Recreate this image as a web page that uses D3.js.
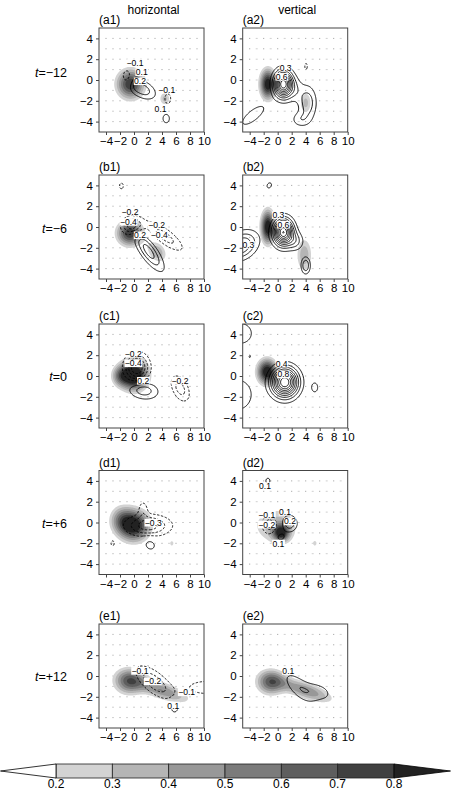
<!DOCTYPE html>
<html><head><meta charset="utf-8">
<script src="https://cdn.jsdelivr.net/npm/d3@7"></script>
<style>body{margin:0;background:#fff}svg{display:block}text{font-family:"Liberation Sans",Arial,sans-serif;fill:#000}</style>
</head><body><svg id="c" width="451" height="792"></svg>
<script>
// ---------- data ----------
const xTicks=[-4,-2,0,2,4,6,8,10];
const yTicks=[-4,-2,0,2,4];
const gridX=[-4,-3,-2,-1,0,1,2,3,4,5,6,7,8,9];
const gridY=[-4,-3,-2,-1,0,1,2,3,4];
const columnTitles=["horizontal","vertical"];
const rowTimes=["−12","−6","0","+6","+12"];
const shadeLevels=[0.2,0.3,0.4,0.5,0.6,0.7,0.8];
const shadeColors=["#d3d3d3","#b5b5b5","#989898","#7b7b7b","#5e5e5e","#404040","#222222"];
const colorbarLabels=["0.2","0.3","0.4","0.5","0.6","0.7","0.8"];
// blobs: [x, y, amplitude, spread x, spread y, tilt deg]
const a1Shade=[[-0.5,-0.4,0.8,1.4,1.0,0],[4.4,-1.8,0.34,0.6,0.5,0]];
const a1Lines=[[1.2,-0.9,0.27,1.35,0.58,-15],[0.2,-0.1,0.08,0.5,0.6,0],[-1.0,0.3,-0.17,0.6,0.6,0],[4.8,-1.8,-0.15,0.5,0.55,0],[4.6,-3.7,0.15,0.5,0.45,0]];
const a1Step=0.1;
const a1Labels=[[0.14,1.62,"−0.1"],[1.1,0.74,"0.1"],[0.86,-0.12,"0.2"],[4.67,-0.92,"−0.1"],[3.8,-2.75,"0.1"]];

const a2Shade=[[-1.4,-0.4,0.92,0.8,1.0,0],[4.0,-2.2,0.34,0.65,0.85,0]];
const a2Lines=[[0.8,-0.4,0.98,0.9,0.85,0],[4.3,-2.2,0.27,0.85,1.1,0],[3.2,-3.8,0.15,0.9,0.5,0],[2.6,-1.0,0.12,0.8,0.8,0],[-3.5,-3.4,0.17,1.6,0.5,26],[4.05,1.3,-0.13,0.25,0.4,0]];
const a2Step=0.1;
const a2Labels=[[1.14,1.2,"0.3"],[0.57,0.3,"0.6"]];

const b1Shade=[[-0.6,-0.6,0.8,1.3,0.85,0],[3.3,-2.4,0.4,1.05,0.7,-20]];
const b1Lines=[[-0.3,0.1,-0.8,1.0,0.6,0],[4.4,-0.9,-0.5,2.0,0.55,-25],[2.1,-2.35,0.7,1.75,0.62,-40],[-1.8,3.95,-0.3,0.3,0.3,0]];
const b1Step=0.2;
const b1Labels=[[-0.57,1.45,"−0.2"],[-0.8,0.49,"−0.4"],[0.86,-0.8,"0.2"],[3.24,0.15,"−0.2"],[3.62,-0.8,"−0.4"]];

const b2Shade=[[-1.4,0.0,0.95,0.7,1.1,0],[3.8,-2.7,0.38,0.85,1.25,0]];
const b2Lines=[[0.8,-0.5,1.0,0.95,0.85,0],[2.6,-1.4,0.2,0.8,0.6,0],[-5.2,-1.8,0.42,1.6,0.85,15],[-1.2,4.0,0.14,0.4,0.28,20],[4.0,-3.7,0.3,0.45,0.55,0]];
const b2Step=0.1;
const b2Labels=[[0.1,1.15,"0.3"],[0.81,0.22,"0.6"],[-4.19,-1.72,"0.3"]];

const c1Shade=[[0.0,0.1,1.1,1.35,1.0,0],[-2.0,0.0,0.4,0.9,0.7,0]];
const c1Lines=[[0.4,0.8,-1.0,1.15,0.9,0],[1.3,-1.35,0.55,1.5,0.6,-5],[6.6,-1.2,-0.5,1.1,0.7,-40]];
const c1Step=0.2;
const c1Labels=[[-0.1,2.15,"−0.2"],[-0.1,1.22,"−0.4"],[1.33,-0.46,"0.2"],[6.57,-0.46,"−0.2"]];

const c2Shade=[[-1.5,0.4,0.95,1.0,0.85,0]];
const c2Lines=[[1.0,-0.6,1.0,1.28,0.94,0],[-5.3,4.1,0.2,1.3,0.8,0],[-4.0,1.9,-0.12,0.18,0.25,0],[-5.8,-1.8,0.2,1.7,1.2,0],[5.3,-1.1,0.15,0.45,0.45,0]];
const c2Step=0.1;
const c2Labels=[[0.57,1.2,"0.4"],[0.81,0.15,"0.8"]];

const d1Shade=[[0.0,-0.3,0.92,1.55,1.05,0],[-1.9,0.3,0.36,1.2,0.95,0],[5.4,-2.0,0.28,0.28,0.25,0]];
const d1Lines=[[2.0,-0.3,-0.36,2.2,0.7,0],[1.3,1.3,-0.15,0.5,0.6,0],[2.3,-2.1,0.15,0.75,0.5,-10],[-3.05,-2.0,-0.15,0.25,0.25,0]];
const d1Step=0.1;
const d1Labels=[[2.76,-0.02,"−0.3"]];

const d2Shade=[[0.5,-1.0,0.72,0.8,0.55,0],[-0.3,-0.3,0.36,2.4,1.3,0],[5.3,-2.0,0.28,0.28,0.25,0]];
const d2Lines=[[-1.2,-0.2,-0.26,0.75,0.65,0],[1.7,-0.1,0.28,0.75,0.55,0],[-1.4,4.0,0.13,0.4,0.35,0],[0.4,-1.4,0.13,0.6,0.35,0]];
const d2Step=0.1;
const d2Labels=[[-1.81,3.51,"0.1"],[-1.57,0.75,"−0.1"],[-1.57,-0.2,"−0.2"],[1.05,1.02,"0.1"],[1.76,0.1,"0.2"],[0.1,-2.02,"0.1"]];

const e1Shade=[[-0.7,-0.5,0.62,1.55,0.9,0],[4.0,-1.4,0.5,2.8,0.6,-12]];
const e1Lines=[[2.9,-0.6,-0.28,2.0,0.75,-25],[10.5,-1.1,-0.16,2.6,0.6,0],[5.8,-3.0,0.18,0.5,0.45,0]];
const e1Step=0.1;
const e1Labels=[[0.86,0.49,"−0.1"],[2.67,-0.52,"−0.2"],[7.52,-1.57,"−0.1"],[5.62,-2.84,"0.1"]];

const e2Shade=[[-1.0,-0.6,0.63,1.45,0.85,0],[4.0,-1.4,0.5,2.8,0.6,-12]];
const e2Lines=[[3.0,-1.1,0.17,1.8,0.7,-30],[5.8,-1.5,0.15,1.5,0.6,-10]];
const e2Step=0.1;
const e2Labels=[[1.52,0.49,"0.1"]];

// ---------- layout ----------
const panels=[
 {id:"a1",row:0,col:0,shade:a1Shade,lines:a1Lines,step:a1Step,labels:a1Labels},
 {id:"a2",row:0,col:1,shade:a2Shade,lines:a2Lines,step:a2Step,labels:a2Labels},
 {id:"b1",row:1,col:0,shade:b1Shade,lines:b1Lines,step:b1Step,labels:b1Labels},
 {id:"b2",row:1,col:1,shade:b2Shade,lines:b2Lines,step:b2Step,labels:b2Labels},
 {id:"c1",row:2,col:0,shade:c1Shade,lines:c1Lines,step:c1Step,labels:c1Labels},
 {id:"c2",row:2,col:1,shade:c2Shade,lines:c2Lines,step:c2Step,labels:c2Labels},
 {id:"d1",row:3,col:0,shade:d1Shade,lines:d1Lines,step:d1Step,labels:d1Labels},
 {id:"d2",row:3,col:1,shade:d2Shade,lines:d2Lines,step:d2Step,labels:d2Labels},
 {id:"e1",row:4,col:0,shade:e1Shade,lines:e1Lines,step:e1Step,labels:e1Labels},
 {id:"e2",row:4,col:1,shade:e2Shade,lines:e2Lines,step:e2Step,labels:e2Labels}
];
const W=105,H=104;
const colLefts=[99,242.7];
const rowTops=[28,175,324,470.5,624];
const rowLabelY=[72,228,376,523,676];

const svg=d3.select("#c");
const xs=d3.scaleLinear().domain([-5,10]).range([0,W]);
const ys=d3.scaleLinear().domain([-5,5]).range([H,0]);

const gx0=-8,gx1=13,gy0=-7,gy1=7,gs=0.1;
const nx=Math.round((gx1-gx0)/gs)+1, ny=Math.round((gy1-gy0)/gs)+1;
function field(blobs){
  const v=new Array(nx*ny);
  for(let j=0;j<ny;j++){const y=gy1-j*gs;
    for(let i=0;i<nx;i++){const x=gx0+i*gs;let s=0;
      for(const [cx,cy,a,sx,sy,ang] of blobs){
        const t=ang*Math.PI/180,dx=x-cx,dy=y-cy;
        const u=dx*Math.cos(t)+dy*Math.sin(t),w=-dx*Math.sin(t)+dy*Math.cos(t);
        s+=a*Math.exp(-(u*u/(2*sx*sx)+w*w/(2*sy*sy)));
      }
      v[j*nx+i]=s;}}
  return v;
}
const proj=d3.geoTransform({point(px,py){this.stream.point(xs(gx0+(px-0.5)*gs),ys(gy1-(py-0.5)*gs));}});
const path=d3.geoPath(proj);
const contours=d3.contours().size([nx,ny]).smooth(true);

columnTitles.forEach((t,i)=>{
  svg.append("text").attr("x",colLefts[i]+W/2+2).attr("y",13.5).attr("text-anchor","middle").attr("font-size",12).text(t);
});
rowTimes.forEach((t,i)=>{
  const tx=svg.append("text").attr("x",67).attr("y",rowLabelY[i]+4.5).attr("text-anchor","end").attr("font-size",12.5);
  tx.append("tspan").attr("font-style","italic").text("t");
  tx.append("tspan").text("="+t);
});

panels.forEach(p=>{
  const g=svg.append("g").attr("transform",`translate(${colLefts[p.col]},${rowTops[p.row]})`);
  const cid="clip"+p.id;
  g.append("clipPath").attr("id",cid).append("rect").attr("width",W).attr("height",H);
  const inner=g.append("g").attr("clip-path",`url(#${cid})`);
  const dots=inner.append("g");
  gridY.forEach(gy=>{gridX.forEach(gx=>{
    const even=gx%2===0;
    dots.append("rect").attr("x",xs(gx)-(even?0.5:1)).attr("y",ys(gy)-0.5)
      .attr("width",even?1:2).attr("height",1).attr("fill",even?"#9a9a9a":"#d0d0d0");
  });});
  const sv=field(p.shade);
  const sc=contours.thresholds(shadeLevels)(sv);
  inner.append("g").selectAll("path").data(sc).join("path")
    .attr("d",path).attr("fill",(d,i)=>shadeColors[i]).attr("stroke","none");
  const lv=field(p.lines);
  const mx=d3.max(lv), mn=-d3.min(lv);
  const pos=d3.range(1,Math.floor(mx/p.step+1e-9)+1).map(k=>+(k*p.step).toFixed(3));
  const neg=d3.range(1,Math.floor(mn/p.step+1e-9)+1).map(k=>+(k*p.step).toFixed(3));
  if(pos.length){
    inner.append("g").selectAll("path").data(contours.thresholds(pos)(lv)).join("path")
      .attr("d",path).attr("fill","none").attr("stroke","#000").attr("stroke-width",0.9);
  }
  if(neg.length){
    const nv=lv.map(v=>-v);
    inner.append("g").selectAll("path").data(contours.thresholds(neg)(nv)).join("path")
      .attr("d",path).attr("fill","none").attr("stroke","#000").attr("stroke-width",0.9).attr("stroke-dasharray","2.4,1.6");
  }
  const lg=inner.append("g");
  p.labels.forEach(([lx,ly,t])=>{
    const gg=lg.append("g");
    const r=gg.append("rect").attr("fill","#fff");
    const tx=gg.append("text").attr("x",xs(lx)).attr("y",ys(ly)+3).attr("text-anchor","middle").attr("font-size",8.6).text(t);
    const bb=tx.node().getBBox();
    r.attr("x",bb.x-0.3).attr("y",bb.y+1.2).attr("width",bb.width+0.6).attr("height",bb.height-2.4);
  });
  g.append("rect").attr("width",W).attr("height",H).attr("fill","none").attr("stroke","#444").attr("stroke-width",1);
  const ax=g.append("g").attr("transform",`translate(0,${H})`)
    .call(d3.axisBottom(xs).tickValues(xTicks).tickSize(3).tickPadding(2).tickFormat(d=>d<0?"−"+(-d):d));
  const ay=g.append("g").call(d3.axisLeft(ys).tickValues(yTicks).tickSize(3).tickPadding(3).tickFormat(d=>d<0?"−"+(-d):d));
  [ax,ay].forEach(a=>{a.select(".domain").remove();a.selectAll("line").attr("stroke","#444");
    a.selectAll("text").attr("font-size",11.5).attr("font-family","Liberation Sans, Arial, sans-serif").attr("fill","#000");});
  g.append("text").attr("x",0).attr("y",-4).attr("font-size",12).text("("+p.id+")");
});

const cb=svg.append("g");
const cx=d3.scaleLinear().domain([0.2,0.8]).range([56,394]);
const cbTop=764,cbH=14;
for(let k=0;k<shadeLevels.length-1;k++){
  cb.append("rect").attr("x",cx(shadeLevels[k])).attr("y",cbTop).attr("width",cx(shadeLevels[k+1])-cx(shadeLevels[k])).attr("height",cbH)
    .attr("fill",shadeColors[k]).attr("stroke","#222").attr("stroke-width",0.8);
}
cb.append("path").attr("d",`M${cx(0.2)},${cbTop}L0.5,${cbTop+cbH/2}L${cx(0.2)},${cbTop+cbH}Z`).attr("fill","#fff").attr("stroke","#000").attr("stroke-width",0.8);
cb.append("path").attr("d",`M${cx(0.8)},${cbTop}L450.5,${cbTop+cbH/2}L${cx(0.8)},${cbTop+cbH}Z`).attr("fill",shadeColors[6]).attr("stroke","#000").attr("stroke-width",0.8);
colorbarLabels.forEach((t,i)=>{
  cb.append("text").attr("x",cx(shadeLevels[i])).attr("y",788).attr("text-anchor","middle").attr("font-size",12).text(t);
});
</script></body></html>
